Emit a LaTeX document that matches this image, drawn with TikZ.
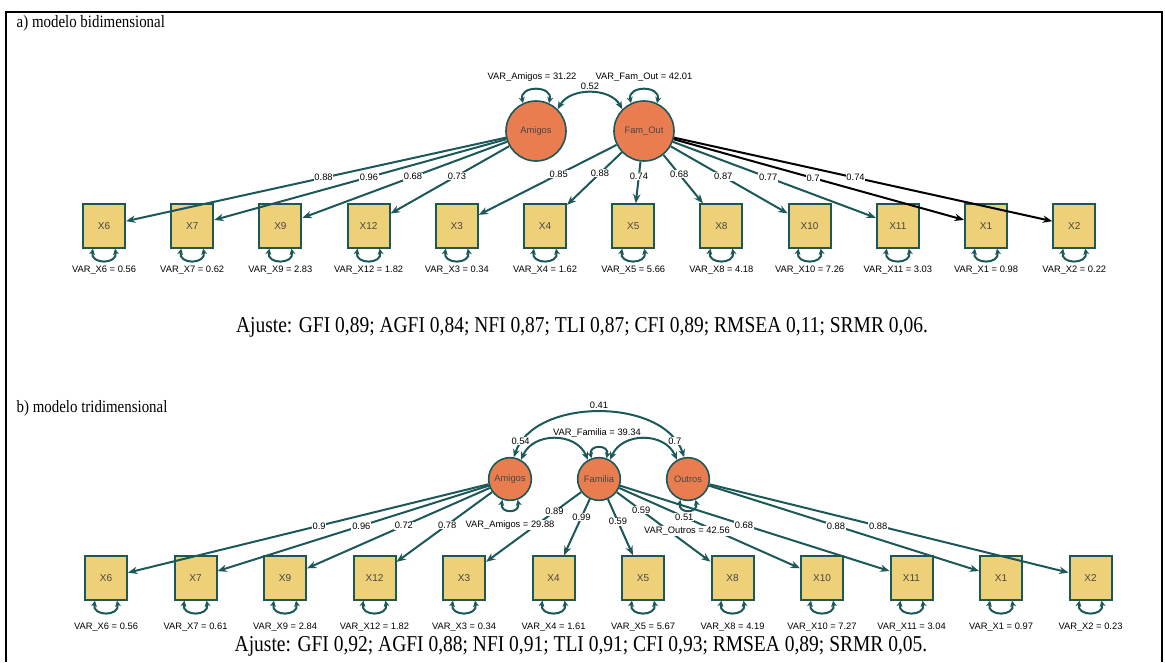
\documentclass[tikz,border=0pt]{standalone}
\usepackage{fontspec}
\setmainfont{Liberation Serif}
\setsansfont{Liberation Sans}
\newfontfamily\figfont[FakeStretch=0.86]{Liberation Serif}
\usetikzlibrary{arrows.meta}

\definecolor{semteal}{RGB}{28,88,88}
\definecolor{latorange}{RGB}{234,125,80}
\definecolor{obsyellow}{RGB}{238,208,120}
\definecolor{nodegray}{RGB}{70,70,70}

\tikzset{
  latent/.style={circle, draw=semteal, line width=1.2pt, fill=latorange, inner sep=0pt,
    font=\sffamily\fontsize{7}{8}\selectfont, text=nodegray},
  observed/.style={rectangle, draw=semteal, line width=1.5pt, fill=obsyellow,
    minimum width=31.5pt, minimum height=32.5pt, inner sep=0pt,
    font=\sffamily\fontsize{7.5}{8}\selectfont, text=nodegray},
  loading/.style={draw=semteal, line width=1.5pt, -{Stealth[length=7pt,width=5.5pt]}},
  covar/.style={draw=semteal, line width=1.5pt,
    {Stealth[length=6pt,width=5pt]}-{Stealth[length=6pt,width=5pt]}},
  varloop/.style={draw=semteal, line width=1.5pt,
    {Stealth[length=4.5pt,width=4.5pt]}-{Stealth[length=4.5pt,width=4.5pt]}},
  coef/.style={fill=white, inner sep=0.6pt, font=\sffamily\fontsize{7}{8}\selectfont},
  varlabel/.style={inner sep=0pt, font=\sffamily\fontsize{7}{8}\selectfont},
  fitindex/.style={font=\figfont\fontsize{17}{20}\selectfont},
  panel/.style={anchor=west, font=\figfont\fontsize{13}{15}\selectfont},
}

\begin{document}
\begin{tikzpicture}[x=0.75pt, y=-0.75pt]

\def \dxa {88.2}
\def \dxb {89.5}

\useasboundingbox (0,0) rectangle (1165,662);
\draw[line width=1.2pt] (6,662) -- (6,12) -- (1162,12) -- (1162,662);

% a) two factors
\node[panel] (tita) at (12,23) {a) modelo bidimensional};

\node[latent, minimum size=45pt] (aami) at (536,131) {Amigos};
\node[latent, minimum size=45pt] (afam) at (644,131) {Fam\_Out};
\draw[varloop] (aami.115) .. controls +(-4,-18) and +(4,-18) .. (aami.65);
\draw[varloop] (afam.115) .. controls +(-4,-18) and +(4,-18) .. (afam.65);
\node[varlabel] (vaami) at (532,77) {VAR\_Amigos = 31.22};
\node[varlabel] (vafam) at (644,77) {VAR\_Fam\_Out = 42.01};
\draw[covar] (aami.45) .. controls +(12,-22) and +(-12,-22) .. node[coef, above=1pt] {0.52} (afam.135);

\foreach \v/\e [count=\i from 0] in {6/0.56,7/0.62,9/2.83,12/1.82,3/0.34,4/1.62,5/5.66,8/4.18,10/7.26,11/3.03,1/0.98,2/0.22}
{
  \node[observed] (a\v) at ({104+\dxa*\i},226) {X\v};
  \node[varlabel] (va\v) at ({104+\dxa*\i},270) {VAR\_X\v{} = \e};
  \draw[varloop] ([xshift=-8.25pt]a\v.south) .. controls +(-3,16) and +(3,16) .. ([xshift=8.25pt]a\v.south);
}

\foreach \v/\c/\p in {6/0.88/0.48,7/0.96/0.47,9/0.68/0.46,12/0.73/0.44}
  \draw[loading] (aami) -- node[coef, pos=\p] {\c} (a\v);
\foreach \v/\c/\p in {3/0.85/0.42,4/0.88/0.4,5/0.74/0.35,8/0.68/0.4,10/0.87/0.45,11/0.77/0.47}
  \draw[loading] (afam) -- node[coef, pos=\p] {\c} (a\v);
\foreach \v/\c in {1/0.7,2/0.74}
  \draw[loading, draw=black] (afam) -- node[coef, pos=0.48] {\c} (a\v);

\node[fitindex] (fita) at (582,327) {Ajuste: GFI 0,89; AGFI 0,84; NFI 0,87; TLI 0,87; CFI 0,89; RMSEA 0,11; SRMR 0,06.};

% b) three factors
\node[panel] (titb) at (12,408) {b) modelo tridimensional};

\node[latent, minimum size=32pt] (bami) at (510,479) {Amigos};
\node[latent, minimum size=32pt] (bfam) at (599,479) {Familia};
\node[latent, minimum size=32pt] (bout) at (688,479) {Outros};

\draw[covar] (bami.80) .. controls +(20,-60) and +(-20,-60) .. node[coef, above=1pt] {0.41} (bout.100);
\draw[covar] (bami.60) .. controls +(12,-28) and +(-12,-28) .. node[coef, pos=0.2, above left=0pt] {0.54} (bfam.120);
\draw[covar] (bfam.60) .. controls +(12,-28) and +(-12,-28) .. node[coef, pos=0.8, above right=0pt] {0.7} (bout.120);
\draw[varloop] (bfam.110) .. controls +(-3,-14) and +(3,-14) .. (bfam.70);
\draw[varloop] (bami.250) .. controls +(-3,14) and +(3,14) .. (bami.290);
\draw[varloop] (bout.250) .. controls +(-3,14) and +(3,14) .. (bout.290);
\node[varlabel] (vbfam) at (597,433) {VAR\_Familia = 39.34};

\foreach \v/\e [count=\i from 0] in {6/0.56,7/0.61,9/2.84,12/1.82,3/0.34,4/1.61,5/5.67,8/4.19,10/7.27,11/3.04,1/0.97,2/0.23}
{
  \node[observed] (b\v) at ({106+\dxb*\i},578) {X\v};
  \node[varlabel] (vb\v) at ({106+\dxb*\i},627) {VAR\_X\v{} = \e};
  \draw[varloop] ([xshift=-8.25pt]b\v.south) .. controls +(-3,16) and +(3,16) .. ([xshift=8.25pt]b\v.south);
}

\foreach \v/\c in {6/0.9,7/0.96,9/0.72,12/0.78}
  \draw[loading] (bami) -- node[coef, pos=0.47] {\c} (b\v);
\foreach \v/\c/\p in {3/0.89/0.28,4/0.99/0.32,5/0.59/0.4,8/0.59/0.26,10/0.51/0.36,11/0.68/0.46}
  \draw[loading] (bfam) -- node[coef, pos=\p] {\c} (b\v);
\foreach \v/\c in {1/0.88,2/0.88}
  \draw[loading] (bout) -- node[coef, pos=0.47] {\c} (b\v);

\node[varlabel, fill=white, inner sep=0.5pt] (vbami) at (510,525) {VAR\_Amigos = 29.88};
\node[varlabel, fill=white, inner sep=0.5pt] (vbout) at (687,531) {VAR\_Outros = 42.56};

\node[fitindex] (fitb) at (581,646) {Ajuste: GFI 0,92; AGFI 0,88; NFI 0,91; TLI 0,91; CFI 0,93; RMSEA 0,89; SRMR 0,05.};

\end{tikzpicture}
\end{document}
